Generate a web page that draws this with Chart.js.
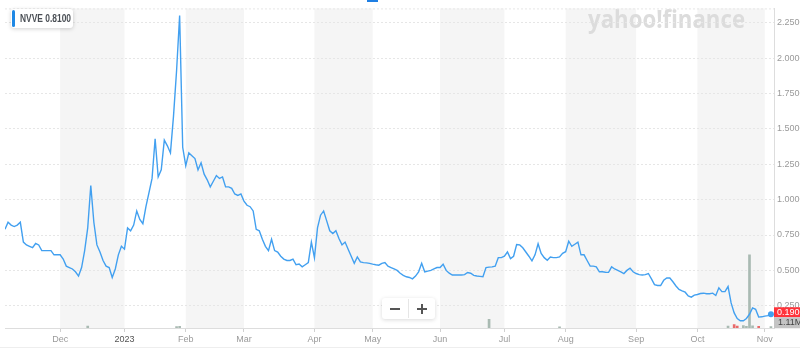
<!DOCTYPE html>
<html>
<head>
<meta charset="utf-8">
<title>NVVE</title>
<script src="https://cdn.jsdelivr.net/npm/chart.js@4"></script>
<style>
    body { margin: 0; background: #fff; }
    canvas { display: block; }
</style>
</head>
<body>
<canvas id="priceChart" width="800" height="351"></canvas>
<script>
//Datos
const ticker = 'NVVE'
const legendValue = '0.8100'
const volumeLabel = '1.11M'

// Cierre diario, una entrada por sesión (nov 2022 - nov 2023)
const closes = [
    0.79, 0.84, 0.82, 0.81, 0.82, 0.84, 0.70, 0.68, 0.67, 0.66,
    0.69, 0.68, 0.64, 0.64, 0.64, 0.64, 0.61, 0.61, 0.61, 0.58,
    0.53, 0.52, 0.51, 0.49, 0.46, 0.52, 0.64, 0.80, 1.10, 0.84,
    0.68, 0.63, 0.57, 0.53, 0.52, 0.45, 0.51, 0.61, 0.67, 0.65,
    0.80, 0.78, 0.82, 0.92, 0.86, 0.83, 0.95, 1.05, 1.15, 1.43,
    1.16, 1.21, 1.42, 1.38, 1.33, 1.59, 1.91, 2.30, 1.37, 1.24,
    1.33, 1.31, 1.29, 1.21, 1.26, 1.18, 1.14, 1.09, 1.13, 1.17,
    1.15, 1.16, 1.09, 1.09, 1.08, 1.04, 1.03, 1.04, 0.99, 0.96,
    0.95, 0.92, 0.79, 0.78, 0.72, 0.67, 0.64, 0.72, 0.64, 0.63,
    0.60, 0.58, 0.57, 0.57, 0.58, 0.54, 0.545, 0.525, 0.54, 0.555,
    0.70, 0.59, 0.80, 0.89, 0.92, 0.85, 0.78, 0.76, 0.78, 0.725,
    0.68, 0.70, 0.65, 0.60, 0.55, 0.595, 0.56, 0.555, 0.553, 0.55,
    0.544, 0.54, 0.537, 0.55, 0.555, 0.53, 0.52, 0.51, 0.50, 0.48,
    0.465, 0.455, 0.45, 0.44, 0.46, 0.49, 0.55, 0.49, 0.495, 0.50,
    0.51, 0.52, 0.52, 0.544, 0.50, 0.48, 0.467, 0.467, 0.467, 0.467,
    0.47, 0.485, 0.48, 0.465, 0.46, 0.458, 0.455, 0.52, 0.523, 0.525,
    0.53, 0.59, 0.59, 0.60, 0.63, 0.583, 0.60, 0.683, 0.68, 0.66,
    0.63, 0.60, 0.567, 0.61, 0.688, 0.62, 0.59, 0.572, 0.595, 0.59,
    0.59, 0.595, 0.62, 0.632, 0.706, 0.67, 0.685, 0.70, 0.61, 0.61,
    0.57, 0.53, 0.53, 0.525, 0.49, 0.49, 0.487, 0.486, 0.525, 0.51,
    0.50, 0.49, 0.478, 0.50, 0.516, 0.49, 0.478, 0.47, 0.467, 0.47,
    0.478, 0.44, 0.40, 0.393, 0.393, 0.43, 0.446, 0.446, 0.42, 0.39,
    0.365, 0.355, 0.346, 0.32, 0.311, 0.325, 0.33, 0.337, 0.339, 0.335,
    0.335, 0.339, 0.323, 0.377, 0.35, 0.35, 0.386, 0.27, 0.20, 0.16,
    0.144, 0.144, 0.16, 0.19, 0.235, 0.225, 0.17, 0.172, 0.177, 0.18,
    0.19
]

// Volumen visible: [sesión, millones]
const volumes = [
    [27, 1.5], [56, 1], [57, 1.3], [158, 6.5], [181, 0.8], [236, 1.5],
    [238, 2.5], [239, 1.4], [241, 1.8], [242, 1.2], [243, 55], [244, 1.6], [246, 1.2], [250, 1.11]
]

// Meses del eje X (sesión donde empieza cada mes)
const monthTicks = [18, 39, 59, 78, 101, 120, 142, 163, 183, 206, 226, 248]
const monthLabels = ['Dec', '2023', 'Feb', 'Mar', 'Apr', 'May', 'Jun', 'Jul', 'Aug', 'Sep', 'Oct', 'Nov']

// Marcas del eje de precios
const priceTicks = [0.25, 0.5, 0.75, 1, 1.25, 1.5, 1.75, 2, 2.25]

const lineColor = '#42a0f0'
const gridColor = '#e6e6e6'

//Decoración estilo Yahoo
const yahooDecor = {
    id: 'yahooDecor',
    beforeDraw(chart) {
        const { ctx, chartArea: area, scales } = chart
        ctx.save()
        ctx.fillStyle = '#fff'
        ctx.fillRect(0, 0, chart.width, chart.height)

        // Bandas grises alternas por mes
        ctx.fillStyle = '#f5f5f5'
        for (let k = 0; k < monthTicks.length - 1; k += 2) {
            const x1 = scales.x.getPixelForValue(monthTicks[k])
            const x2 = scales.x.getPixelForValue(monthTicks[k + 1])
            ctx.fillRect(x1, area.top, x2 - x1, area.bottom - area.top)
        }

        // Marca de agua
        ctx.fillStyle = '#dcdcdc'
        ctx.font = 'bold 25px "Open Sans", "Liberation Sans", sans-serif'
        ctx.textBaseline = 'alphabetic'
        ctx.fillText('yahoo!finance', 588, 28, 157)
        ctx.restore()
    },
    afterDraw(chart) {
        const { ctx, chartArea: area, scales } = chart
        ctx.save()

        // Línea superior punteada
        ctx.strokeStyle = gridColor
        ctx.setLineDash([2, 2])
        ctx.beginPath()
        ctx.moveTo(area.left, area.top + 0.5)
        ctx.lineTo(area.right, area.top + 0.5)
        ctx.stroke()
        ctx.setLineDash([])

        // Línea inferior del marco
        ctx.strokeStyle = '#eeeeee'
        ctx.beginPath()
        ctx.moveTo(0, 347.5)
        ctx.lineTo(chart.width, 347.5)
        ctx.stroke()

        // Pestaña azul superior
        ctx.fillStyle = '#1f7fe3'
        ctx.fillRect(367, 0, 11, 2)

        // Leyenda
        ctx.shadowColor = 'rgba(0,0,0,0.18)'
        ctx.shadowBlur = 4
        ctx.shadowOffsetY = 1
        ctx.fillStyle = '#fff'
        ctx.beginPath()
        ctx.roundRect(11, 9, 62, 19, 3)
        ctx.fill()
        ctx.shadowColor = 'transparent'
        ctx.fillStyle = '#1e88e5'
        ctx.beginPath()
        ctx.roundRect(12, 10, 3, 17, 1.5)
        ctx.fill()
        ctx.fillStyle = '#4a4f55'
        ctx.font = 'bold 10px "Liberation Sans", Arial, sans-serif'
        ctx.textBaseline = 'middle'
        ctx.fillText(ticker + ' ' + legendValue, 20, 19, 51)

        // Botones de zoom
        ctx.shadowColor = 'rgba(0,0,0,0.15)'
        ctx.shadowBlur = 4
        ctx.shadowOffsetY = 1
        ctx.fillStyle = '#fff'
        ctx.beginPath()
        ctx.roundRect(382, 298, 53, 21, 3)
        ctx.fill()
        ctx.shadowColor = 'transparent'
        ctx.strokeStyle = '#e6e6e6'
        ctx.beginPath()
        ctx.moveTo(408.5, 299)
        ctx.lineTo(408.5, 318)
        ctx.stroke()
        ctx.fillStyle = '#555'
        ctx.fillRect(390, 308, 10, 2)
        ctx.fillRect(417, 308, 10, 2)
        ctx.fillRect(421, 304, 2, 10)

        // Etiquetas de último precio y volumen
        const last = closes[closes.length - 1]
        const yLast = scales.y.getPixelForValue(last)
        ctx.fillStyle = '#ff333a'
        ctx.fillRect(area.right, yLast - 7, chart.width - area.right, 10)
        ctx.fillStyle = '#fff'
        ctx.font = '9px "Liberation Sans", Arial, sans-serif'
        ctx.fillText(last.toFixed(4), area.right + 3, yLast - 2)
        ctx.fillStyle = '#c4c4c4'
        ctx.fillRect(area.right, yLast + 3, chart.width - area.right, 11)
        ctx.fillStyle = '#444'
        ctx.fillText(volumeLabel, area.right + 4, yLast + 8.5)
        ctx.restore()
    }
}

//Crear gráfico
const createPriceChart = () => {
    const ctx = document.getElementById('priceChart').getContext('2d')
    new Chart(ctx, {
        type: 'line',
        data: {
            datasets: [
                {
                    label: ticker,
                    data: closes.map((c, i) => ({ x: i, y: c })),
                    borderColor: lineColor,
                    borderWidth: 1.4,
                    tension: 0,
                    pointRadius: c => c.dataIndex === closes.length - 1 ? 3 : 0,
                    pointBackgroundColor: lineColor,
                    pointBorderWidth: 0,
                    yAxisID: 'y',
                    order: 0
                },
                {
                    type: 'bar',
                    label: 'Volume',
                    data: volumes.map(([i, v]) => ({ x: i, y: v })),
                    backgroundColor: volumes.map(([i]) => closes[i] < closes[i - 1] ? '#e86a6a' : '#a9bab2'),
                    barThickness: 2,
                    yAxisID: 'yVol',
                    order: 1
                }
            ]
        },
        options: {
            responsive: false,
            animation: false,
            layout: { padding: { top: 4, left: 5, right: 0, bottom: 0 } },
            scales: {
                x: {
                    type: 'linear',
                    min: 0,
                    max: 251,
                    offset: false,
                    afterBuildTicks: scale => { scale.ticks = monthTicks.map(v => ({ value: v })) },
                    afterFit: scale => { scale.height = 23 },
                    ticks: {
                        autoSkip: false,
                        maxRotation: 0,
                        padding: 2,
                        font: { size: 9, family: '"Liberation Sans", Arial, sans-serif' },
                        color: c => c.tick && c.tick.value === 39 ? '#555' : '#9a9a9a',
                        callback: v => monthLabels[monthTicks.indexOf(v)]
                    },
                    grid: {
                        offset: false,
                        drawOnChartArea: false,
                        tickLength: 4,
                        color: '#d0d0d0'
                    },
                    border: { color: '#dddddd', dash: [2, 2] }
                },
                y: {
                    position: 'right',
                    min: 0.093,
                    max: 2.351,
                    afterBuildTicks: scale => { scale.ticks = priceTicks.map(v => ({ value: v })) },
                    afterFit: scale => { scale.width = 26 },
                    ticks: {
                        padding: 3,
                        font: { size: 9, family: '"Liberation Sans", Arial, sans-serif' },
                        color: '#9a9a9a',
                        callback: v => v.toFixed(4)
                    },
                    grid: {
                        drawTicks: false,
                        color: gridColor,
                        borderDash: [2, 2]
                    },
                    border: { display: true, color: '#dddddd', dash: [2, 2] }
                },
                yVol: {
                    display: false,
                    min: 0,
                    max: 240
                }
            },
            plugins: {
                legend: { display: false },
                tooltip: { enabled: false }
            }
        },
        plugins: [yahooDecor]
    })
}

createPriceChart()
</script>
</body>
</html>
